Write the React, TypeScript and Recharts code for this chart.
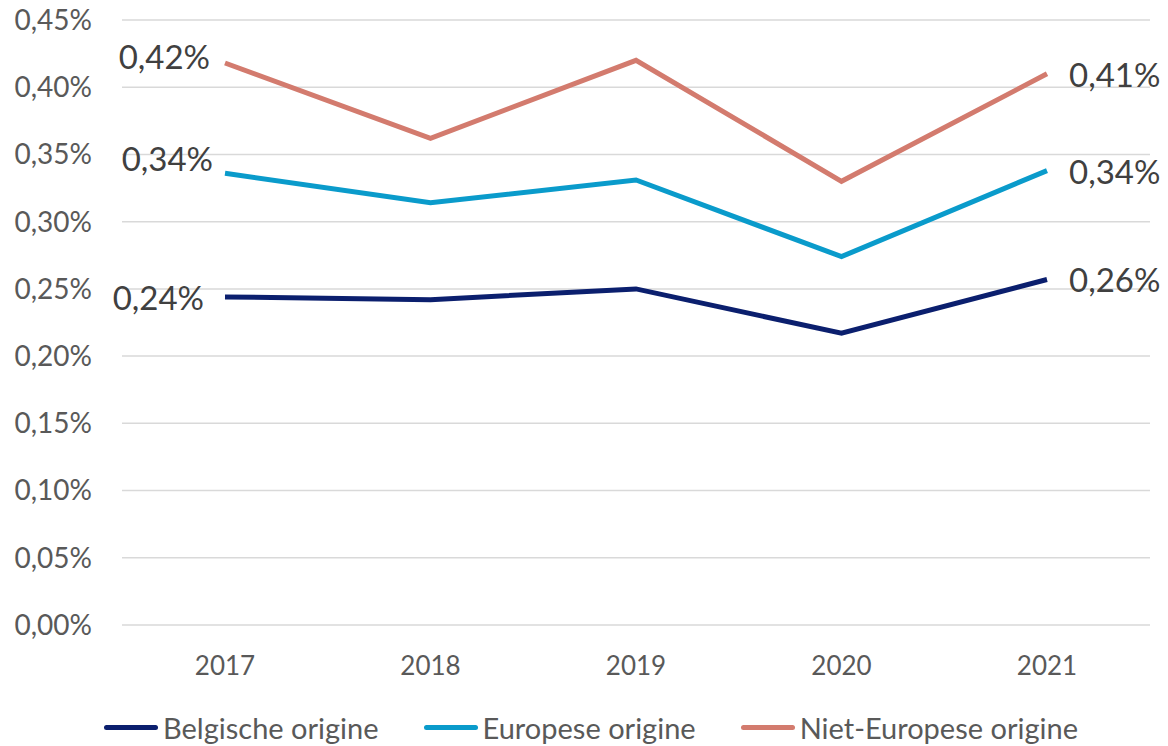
import { LineChart, Line, XAxis, YAxis, CartesianGrid, LabelList } from 'recharts';

document.body.style.margin = '0';

const years = ['2017', '2018', '2019', '2020', '2021'];
const belgische = [0.244, 0.242, 0.25, 0.217, 0.257];
const europese = [0.336, 0.314, 0.331, 0.274, 0.338];
const nietEuropese = [0.418, 0.362, 0.42, 0.33, 0.41];
const yTicks = [0, 0.05, 0.1, 0.15, 0.2, 0.25, 0.3, 0.35, 0.4, 0.45];

const series = [
  { key: 'bel', name: 'Belgische origine', color: '#0B1F6E', values: belgische, leftGap: 21, leftDy: 0 },
  { key: 'eur', name: 'Europese origine', color: '#0A9BCB', values: europese, leftGap: 12, leftDy: -15 },
  { key: 'niet', name: 'Niet-Europese origine', color: '#D37B6E', values: nietEuropese, leftGap: 15, leftDy: -7 },
];

const data = years.map((year, i) => ({
  year,
  bel: belgische[i],
  eur: europese[i],
  niet: nietEuropese[i],
}));

const FONT = 'Lato, sans-serif';
const fmt = (v: number) => `${v.toFixed(2).replace('.', ',')}%`;

// only first and last point get a label, like the original
function endLabel(count: number, leftGap: number, leftDy: number) {
  return (props: any) => {
    const { x, y, value, index } = props;
    if (index !== 0 && index !== count - 1) return null;
    const first = index === 0;
    return (
      <text
        x={first ? x - leftGap : x + 22}
        y={first ? y + leftDy : y}
        textAnchor={first ? 'end' : 'start'}
        dominantBaseline="central"
        fontSize={33}
        fontFamily={FONT}
        fill="#404040"
      >
        {fmt(value)}
      </text>
    );
  };
}

export default function App() {
  return (
    <div style={{ width: 1168, height: 746, background: '#fff', fontFamily: FONT }}>
      <LineChart width={1168} height={690} data={data} margin={{ top: 20, right: 18, left: 0, bottom: 5 }}>
        <CartesianGrid vertical={false} stroke="#d9d9d9" strokeWidth={1.5} />
        <XAxis
          dataKey="year"
          axisLine={false}
          tickLine={false}
          tickSize={0}
          tickMargin={32}
          height={60}
          padding={{ left: 103, right: 103 }}
          tick={{ fontSize: 26, fill: '#595959', fontFamily: FONT }}
        />
        <YAxis
          domain={[0, 0.45]}
          ticks={yTicks}
          axisLine={false}
          tickLine={false}
          tickSize={0}
          tickMargin={30}
          width={122}
          tickFormatter={fmt}
          tick={{ fontSize: 28, fill: '#595959', fontFamily: FONT }}
        />
        {series.map((s) => (
          <Line
            key={s.key}
            type="linear"
            dataKey={s.key}
            name={s.name}
            stroke={s.color}
            strokeWidth={5}
            dot={false}
            activeDot={false}
            isAnimationActive={false}
          >
            <LabelList dataKey={s.key} content={endLabel(s.values.length, s.leftGap, s.leftDy)} />
          </Line>
        ))}
      </LineChart>

      {/* Legend */}
      <div
        style={{
          height: 56,
          display: 'flex',
          justifyContent: 'center',
          alignItems: 'flex-end',
          paddingLeft: 14,
          boxSizing: 'border-box',
          paddingBottom: 2,
          gap: 45,
          fontSize: 29,
          color: '#595959',
        }}
      >
        {series.map((s) => (
          <div key={s.key} style={{ display: 'flex', alignItems: 'center', lineHeight: '33px' }}>
            <span style={{ display: 'inline-block', width: 54, height: 5, borderRadius: 3, background: s.color, marginRight: 5 }} />
            <span>{s.name}</span>
          </div>
        ))}
      </div>
    </div>
  );
}
